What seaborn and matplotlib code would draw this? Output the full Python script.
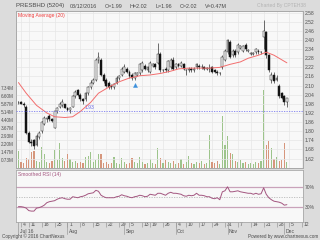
import numpy as np
import pandas as pd
import matplotlib
matplotlib.use("Agg")
import matplotlib.pyplot as plt
import matplotlib.transforms as mtransforms
import seaborn as sns

# ---------------- data ----------------
day = list(range(-1, 104))
opens = [1.99, 1.99, 1.98, 1.96, 1.79, 1.73, 1.74, 1.71, 1.76, 1.80, 1.85, 1.88, 1.90, 1.88, 1.82,
         1.93, 1.96, 1.97, 1.98, 1.95, 1.94, 1.96, 2.03, 2.07, 2.04, 2.01, 2.01, 2.05, 2.09, 2.12,
         2.14, 2.27, 2.27, 2.17, 2.14, 2.12, 2.10, 2.09, 2.12, 2.15, 2.17, 2.19, 2.21, 2.19, 2.17,
         2.15, 2.17, 2.18, 2.20, 2.23, 2.20, 2.19, 2.23, 2.24, 2.25, 2.31, 2.20, 2.21, 2.20, 2.22,
         2.27, 2.22, 2.24, 2.23, 2.24, 2.20, 2.20, 2.21, 2.20, 2.22, 2.23, 2.22, 2.22, 2.21, 2.21,
         2.22, 2.20, 2.19, 2.18, 2.22, 2.27, 2.32, 2.39, 2.30, 2.33, 2.32, 2.35, 2.33, 2.37, 2.33,
         2.31, 2.31, 2.32, 2.33, 2.32, 2.42, 2.45, 2.30, 2.14, 2.17, 2.14, 2.10, 2.05, 2.03, 1.99]
highs = [2.00, 2.00, 1.99, 1.97, 1.80, 1.75, 1.75, 1.78, 1.80, 1.87, 1.90, 1.89, 1.91, 1.89, 1.93,
         1.96, 1.99, 2.01, 1.98, 1.96, 1.96, 2.04, 2.07, 2.08, 2.05, 2.02, 2.06, 2.10, 2.14, 2.15,
         2.28, 2.32, 2.28, 2.18, 2.15, 2.13, 2.11, 2.12, 2.16, 2.17, 2.22, 2.24, 2.22, 2.20, 2.18,
         2.19, 2.19, 2.25, 2.26, 2.24, 2.23, 2.26, 2.25, 2.25, 2.38, 2.32, 2.21, 2.22, 2.27, 2.28,
         2.29, 2.25, 2.25, 2.26, 2.25, 2.21, 2.22, 2.22, 2.22, 2.25, 2.24, 2.24, 2.23, 2.22, 2.24,
         2.23, 2.21, 2.20, 2.19, 2.30, 2.34, 2.41, 2.40, 2.34, 2.34, 2.38, 2.37, 2.37, 2.38, 2.34,
         2.32, 2.32, 2.35, 2.34, 2.33, 2.53, 2.46, 2.31, 2.19, 2.19, 2.17, 2.11, 2.06, 2.04, 2.02]
lows = [1.98, 1.98, 1.96, 1.78, 1.72, 1.70, 1.68, 1.70, 1.75, 1.79, 1.84, 1.86, 1.87, 1.86, 1.82,
        1.92, 1.95, 1.96, 1.95, 1.93, 1.92, 1.96, 2.02, 2.03, 2.00, 1.98, 2.00, 2.04, 2.08, 2.11,
        2.13, 2.25, 2.16, 2.12, 2.09, 2.08, 2.08, 2.08, 2.11, 2.14, 2.16, 2.18, 2.18, 2.15, 2.14,
        2.14, 2.16, 2.17, 2.19, 2.20, 2.19, 2.18, 2.22, 2.21, 2.24, 2.19, 2.19, 2.19, 2.19, 2.21,
        2.20, 2.21, 2.22, 2.22, 2.20, 2.17, 2.19, 2.19, 2.19, 2.21, 2.21, 2.21, 2.20, 2.20, 2.19,
        2.18, 2.18, 2.17, 2.17, 2.21, 2.26, 2.31, 2.28, 2.29, 2.29, 2.31, 2.34, 2.32, 2.33, 2.32,
        2.30, 2.30, 2.31, 2.31, 2.31, 2.34, 2.28, 2.19, 2.12, 2.12, 2.13, 2.02, 2.01, 1.97, 1.96]
closes = [1.99, 1.98, 1.97, 1.79, 1.73, 1.72, 1.70, 1.77, 1.79, 1.86, 1.89, 1.88, 1.88, 1.87, 1.93,
          1.95, 1.98, 1.99, 1.95, 1.94, 1.95, 2.03, 2.06, 2.04, 2.01, 2.00, 2.05, 2.09, 2.12, 2.14,
          2.27, 2.29, 2.17, 2.13, 2.10, 2.09, 2.09, 2.11, 2.15, 2.16, 2.21, 2.22, 2.19, 2.16, 2.15,
          2.18, 2.18, 2.24, 2.25, 2.21, 2.22, 2.25, 2.24, 2.22, 2.31, 2.20, 2.20, 2.20, 2.26, 2.27,
          2.21, 2.24, 2.23, 2.25, 2.21, 2.20, 2.21, 2.20, 2.21, 2.24, 2.22, 2.22, 2.21, 2.21, 2.21,
          2.19, 2.19, 2.18, 2.18, 2.29, 2.33, 2.40, 2.29, 2.33, 2.30, 2.37, 2.36, 2.36, 2.34, 2.33,
          2.31, 2.31, 2.34, 2.32, 2.32, 2.46, 2.30, 2.20, 2.17, 2.13, 2.15, 2.03, 2.02, 1.99, 2.02]
volume_m = [1.5, 0.5, 0.4, 0.9, 0.8, 1.4, 1.5, 0.6, 0.5, 1.9, 1.2, 0.5, 0.4, 0.6, 1.6,
            0.7, 2.3, 0.9, 0.6, 1.2, 0.8, 0.5, 0.6, 0.4, 0.5, 0.4, 1.0, 1.1, 1.4, 0.5,
            0.7, 1.2, 1.2, 0.4, 0.5, 0.3, 0.4, 1.0, 0.4, 0.3, 0.9, 0.5, 0.3, 0.4, 0.9,
            0.5, 0.4, 1.0, 0.5, 0.3, 0.4, 0.8, 0.4, 0.3, 1.8, 0.9, 0.4, 0.7, 0.5, 0.4,
            0.6, 0.3, 0.4, 0.8, 0.3, 0.5, 1.1, 0.4, 0.3, 0.5, 0.4, 0.6, 0.3, 0.4, 3.0,
            0.5, 0.4, 0.6, 0.3, 4.7, 2.1, 2.9, 1.3, 1.2, 0.6, 0.5, 0.7, 0.4, 0.5, 0.3,
            0.4, 0.3, 0.5, 0.4, 0.6, 7.1, 2.1, 2.4, 1.8, 0.8, 1.0, 0.6, 0.7, 2.3, 0.47]
ma_day = [-1, 2, 6, 10, 13, 17, 20, 23, 27, 30, 34, 38, 42, 46, 50, 54, 58, 61, 65, 69,
          73, 77, 81, 85, 88, 92, 95, 98, 101, 103]
ma_val = [2.12, 2.05, 1.97, 1.92, 1.895, 1.89, 1.895, 1.93, 1.99, 2.05, 2.09, 2.125, 2.15,
          2.165, 2.17, 2.18, 2.195, 2.21, 2.215, 2.215, 2.215, 2.22, 2.24, 2.256, 2.28, 2.30,
          2.32, 2.30, 2.27, 2.25]
rsi = [30, 30, 29, 27, 22, 21, 21, 27, 28, 30, 33, 38, 40, 41, 42,
       45, 47, 48, 46, 45, 45, 50, 49, 48, 50, 51, 53, 56, 57, 58,
       63, 61, 53, 50, 48, 48, 48, 48, 50, 51, 54, 52, 51, 49, 48,
       50, 51, 53, 52, 50, 51, 55, 54, 53, 57, 57, 55, 53, 57, 59,
       57, 57, 56, 55, 52, 51, 53, 52, 53, 57, 53, 53, 52, 50, 50,
       47, 46, 48, 44, 60, 62, 70, 60, 60, 61, 62, 60, 59, 58, 57,
       57, 55, 57, 55, 56, 68, 55, 48, 44, 41, 40, 39, 37, 33, 34]
week_ticks = [0, 3, 8, 13, 18, 23, 28, 33, 38, 42, 47, 50, 55, 60, 64, 69, 74, 79, 84, 89,
              94, 99, 104, 109]
week_labels = ["4", "11", "18", "25", "1", "8", "15", "22", "29", "5", "13", "19", "26", "4",
               "10", "17", "24", "31", "7", "14", "21", "28", "5", "12"]
month_ticks = [-1, 18, 40, 60, 80, 102]
month_labels = ["Jul 16", "Aug", "Sep", "Oct", "Nov", "Dec"]
price_ticks = [1.62, 1.68, 1.74, 1.80, 1.86, 1.92, 1.98, 2.04, 2.10, 2.16, 2.22, 2.28, 2.34,
               2.40, 2.46, 2.52, 2.58]
vol_ticks_m = [0.73, 1.47, 2.20, 2.93, 3.67, 4.40, 5.14, 5.87, 6.60, 7.34]
last_price = 1.93
signal_day = [44]
signal_price = [2.105]

# ---------------- style ----------------
sns.set_theme(style="white")
plt.rcParams["font.family"] = ["Liberation Sans", "DejaVu Sans"]
FS = 3.6
TXT = "#505050"
BG = "#dcdcdc"
PANEL = "#f8f8f8"
GRID = "#e6e6e6"
W, H = 320, 240


def rect(l, t, r, b):
    return [l / W, 1 - b / H, (r - l) / W, (b - t) / H]


fig = plt.figure(figsize=(3.2, 2.4), dpi=100, facecolor=BG)
ax_vol = fig.add_axes(rect(16, 11, 302.5, 167.5))
ax_p = ax_vol.twinx()
ax_rsi = fig.add_axes(rect(16, 170, 302.5, 221.5))

df = pd.DataFrame({"day": day, "open": opens, "high": highs, "low": lows,
                   "close": closes, "vol": np.array(volume_m) * 1e6})
df["up"] = df["close"] >= df["open"]

xlim = (-1.95, 109.05)

ax_vol.set_facecolor(PANEL)
vcol = np.where(df["up"], "#9dc48b", "#d6967c")
ax_vol.bar(df["day"], df["vol"], width=0.45, color=vcol, linewidth=0, zorder=2)
ax_vol.set_ylim(0, 14.4e6)
ax_vol.set_xlim(*xlim)
ax_vol.set_yticks([v * 1e6 for v in vol_ticks_m])
ax_vol.set_yticklabels([f"{v:.2f}M" for v in vol_ticks_m])
ax_vol.set_xticks(week_ticks)
ax_vol.tick_params(axis="x", bottom=False, labelbottom=False, length=0)
ax_vol.tick_params(axis="y", left=False, length=0, labelsize=3.3, labelcolor=TXT, pad=1.5)
ax_vol.grid(axis="x", color=GRID, lw=0.5, zorder=0)
ax_vol.set_axisbelow(True)

ax_p.set_ylim(1.561, 2.591)
ax_p.set_xlim(*xlim)
ax_p.set_yticks(price_ticks)
ax_p.set_yticklabels([f"{v:.2f}" for v in price_ticks])
ax_p.tick_params(axis="y", right=False, length=0, labelsize=FS, labelcolor=TXT, pad=1.8)
ax_p.grid(axis="y", color=GRID, lw=0.5, zorder=0)
ax_vol.yaxis.grid(False)

ax_p.vlines(df["day"], df["low"], df["high"], color="#202020", lw=0.45, zorder=3)
body_lo = df[["open", "close"]].min(axis=1)
body_h = (df["close"] - df["open"]).abs().clip(lower=0.004)
ax_p.bar(df["day"], body_h, bottom=body_lo, width=0.72,
         color=np.where(df["up"], "white", "#101010"), edgecolor="#202020",
         linewidth=0.35, zorder=4)

sns.lineplot(x=ma_day, y=ma_val, ax=ax_p, color="#f26d6d", lw=0.7, zorder=5)
ax_p.axhline(last_price, color="#7b7bf0", lw=0.6, ls=(0, (1.5, 1.5)), zorder=5)
ax_p.text(24.5, last_price + 0.008, f"{last_price:.2f}", color="#6b6be8", fontsize=FS,
          ha="left", va="bottom")
sns.scatterplot(x=signal_day, y=signal_price, ax=ax_p, marker="^", s=9, color="#3a8fdc",
                edgecolor="#3a8fdc", zorder=6)
ax_p.text(0.008, 0.985, "Moving Average (20)", transform=ax_p.transAxes, color="#f03c3c",
          fontsize=FS, ha="left", va="top")
ax_p.set_xlabel("")
ax_p.set_ylabel("")
ax_vol.set_ylabel("")

for a in (ax_vol, ax_p, ax_rsi):
    for s in a.spines.values():
        s.set_color("#a8a8a8")
        s.set_linewidth(0.6)

ax_rsi.set_facecolor(PANEL)
ax_rsi.set_xlim(*xlim)
ax_rsi.set_ylim(0, 104)
ax_rsi.axhline(70, color="#c9a2ba", lw=0.9, zorder=1)
ax_rsi.axhline(30, color="#c9a2ba", lw=0.9, zorder=1)
ax_rsi.axhline(50, color="#b8b8b8", lw=0.6, ls=(0, (1.5, 1.5)), zorder=1)
sns.lineplot(x=day, y=rsi, ax=ax_rsi, color="#a3557f", lw=0.7, zorder=3)
ax_rsi.yaxis.tick_right()
ax_rsi.set_yticks([30, 70])
ax_rsi.set_yticklabels(["30%", "70%"])
ax_rsi.tick_params(axis="y", right=False, length=0, labelsize=FS, labelcolor=TXT, pad=1.8)
ax_rsi.set_xticks(week_ticks)
ax_rsi.set_xticklabels(week_labels)
ax_rsi.tick_params(axis="x", bottom=True, length=3.5, width=0.5, color="#9a9a9a",
                   labelsize=FS, labelcolor=TXT, pad=-3.0)
offset = mtransforms.ScaledTranslation(1.2 / 72, 0, fig.dpi_scale_trans)
for lab in ax_rsi.get_xticklabels():
    lab.set_horizontalalignment("left")
    lab.set_transform(lab.get_transform() + offset)
ax_rsi.set_xlabel("")
ax_rsi.set_ylabel("")
ax_rsi.text(0.008, 0.96, "Smoothed RSI (14)", transform=ax_rsi.transAxes, color="#a3557f",
            fontsize=FS, ha="left", va="top")

btrans = mtransforms.blended_transform_factory(ax_rsi.transData, ax_rsi.transAxes)
for mt, ml in zip(month_ticks, month_labels):
    ax_rsi.plot([mt, mt], [0, -0.24], transform=btrans, color="#9a9a9a", lw=0.5,
                clip_on=False)
    ax_rsi.text(mt + 0.5, -0.185, ml, transform=btrans, fontsize=FS, color=TXT,
                ha="left", va="center", clip_on=False)


def ftext(x, y, s, **kw):
    fig.text(x / W, 1 - y / H, s, fontsize=kw.pop("fs", FS + 0.3), va="center",
             ha=kw.pop("ha", "left"), color=kw.pop("color", "#4a4a4a"), **kw)


ftext(16, 6, "PRESBHD (5204)", fs=4.3)
ftext(70, 6, "03/12/2016")
ftext(105, 6, "O=1.99")
ftext(130, 6, "H=2.02")
ftext(155, 6, "L=1.96")
ftext(180, 6, "C=2.02")
ftext(205, 6, "V=0.47M")
ftext(257, 6, "Charted By CPTEH38", color="#b4b4b4", fs=3.6)
ftext(2, 236.5, "Copyright \u00a9 2016 ChartNexus", fs=3.3)
ftext(318, 236.5, "Powered by www.chartnexus.com", fs=3.3, ha="right")

fig.savefig("out.png", dpi=100, facecolor=BG)
